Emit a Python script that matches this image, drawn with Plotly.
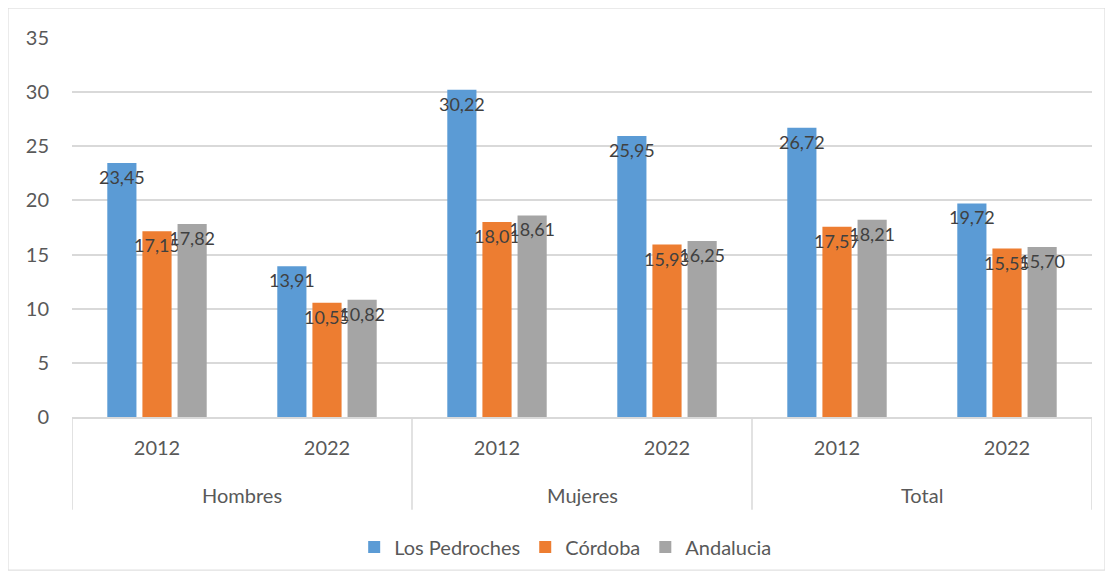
import plotly.graph_objects as go

grupos = ['Hombres', 'Mujeres', 'Total']
anios = ['2012', '2022', '2012', '2022', '2012', '2022']
categorias = ['Hombres 2012', 'Hombres 2022', 'Mujeres 2012', 'Mujeres 2022', 'Total 2012', 'Total 2022']

los_pedroches = [23.45, 13.91, 30.22, 25.95, 26.72, 19.72]
cordoba = [17.15, 10.55, 18.01, 15.93, 17.57, 15.55]
andalucia = [17.82, 10.82, 18.61, 16.25, 18.21, 15.70]

series = [
    ('Los Pedroches', los_pedroches, '#5b9bd5'),
    ('Córdoba', cordoba, '#ed7d31'),
    ('Andalucia', andalucia, '#a5a5a5'),
]

fuente = 'Lato, Open Sans, sans-serif'
gris_texto = '#595959'
gris_linea = '#d9d9d9'

fig = go.Figure()
for nombre, valores, color in series:
    fig.add_trace(go.Bar(
        name=nombre,
        x=categorias,
        y=valores,
        marker=dict(color=color, line=dict(width=0)),
        text=[f'{v:.2f}'.replace('.', ',') for v in valores],
        textposition='inside',
        insidetextanchor='end',
        constraintext='none',
        textangle=0,
        insidetextfont=dict(color='#404040', size=18, family=fuente),
    ))

# etiquetas de grupo y divisores del eje (2 categorias por grupo)
anotaciones = [dict(x=2 * i + 0.5, xref='x', y=-0.206, yref='paper', yanchor='middle',
                    text=g, showarrow=False, font=dict(size=20, color=gris_texto, family=fuente))
               for i, g in enumerate(grupos)]
formas = [dict(type='line', xref='x', yref='paper', x0=2 * i - 0.5, x1=2 * i - 0.5,
               y0=0, y1=-0.245, line=dict(color=gris_linea, width=1.5))
          for i in range(len(grupos) + 1)]
formas.append(dict(type='rect', xref='paper', yref='paper', x0=-0.0627, x1=1.0127,
                   y0=-0.404, y1=1.079, line=dict(color=gris_linea, width=1)))

# la pagina tiene 8px de margen en el body
fig.update_layout(
    width=1113, height=578,
    margin=dict(l=64, r=29, t=30, b=169),
    paper_bgcolor='white', plot_bgcolor='white',
    barmode='group', bargap=0.38, bargroupgap=0.17,
    font=dict(family=fuente, size=20, color=gris_texto),
    showlegend=True,
    legend=dict(orientation='h', x=0.484, xanchor='center', y=-0.343, yanchor='middle',
                font=dict(size=20, color=gris_texto), itemwidth=30, traceorder='normal'),
    annotations=anotaciones,
    shapes=formas,
)
fig.update_yaxes(range=[0, 35], dtick=5, showgrid=True, gridcolor=gris_linea, gridwidth=1.5,
                 zeroline=False, showline=False, ticks='', ticklabelstandoff=22, automargin=False,
                 tickfont=dict(size=20, color=gris_texto))
fig.update_xaxes(range=[-0.5, 5.5], tickvals=categorias, ticktext=anios, showline=True,
                 linecolor=gris_linea, linewidth=1.5, ticks='', ticklabelstandoff=12,
                 automargin=False, tickfont=dict(size=20, color=gris_texto))

fig.write_html('out.html')
